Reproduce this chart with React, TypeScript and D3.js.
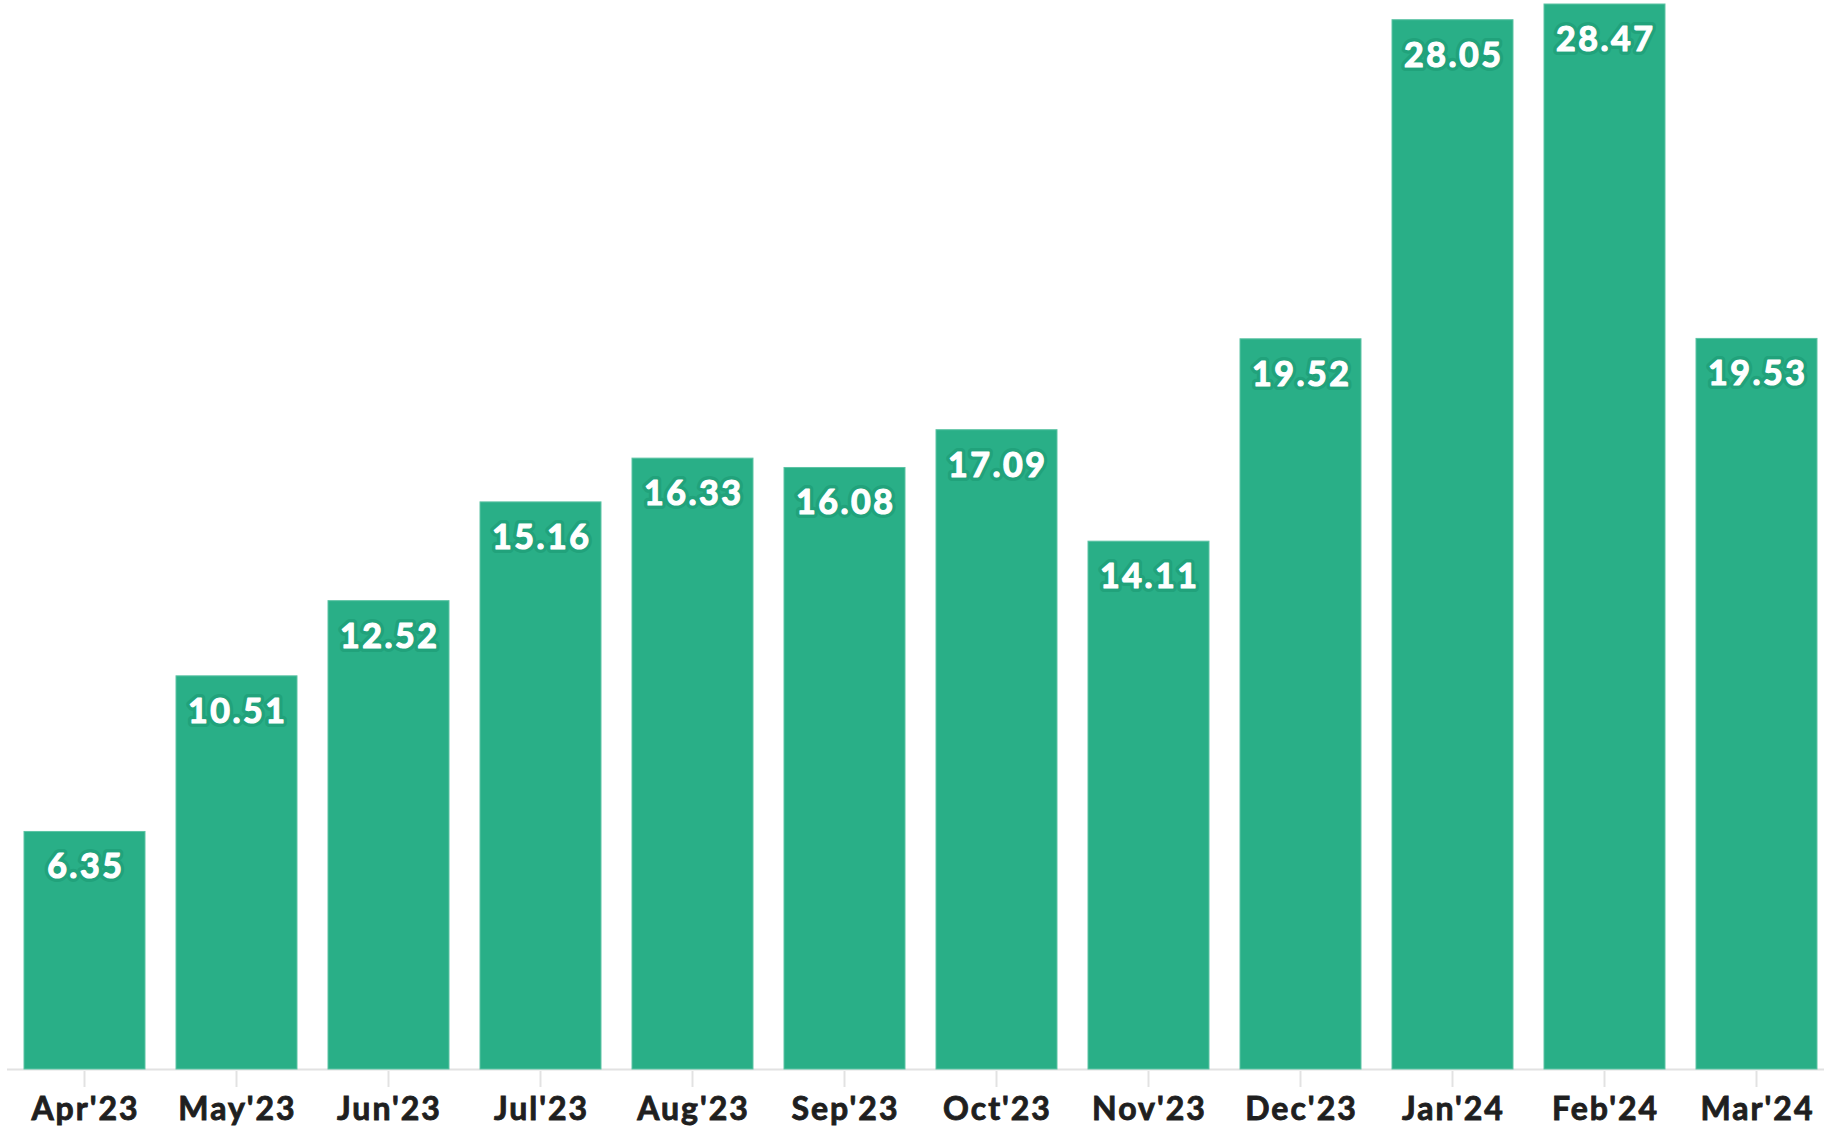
import React from "react";
import * as d3 from "d3";

const months = ["Apr'23", "May'23", "Jun'23", "Jul'23", "Aug'23", "Sep'23", "Oct'23", "Nov'23", "Dec'23", "Jan'24", "Feb'24", "Mar'24"];
const values = [6.35, 10.51, 12.52, 15.16, 16.33, 16.08, 17.09, 14.11, 19.52, 28.05, 28.47, 19.53];

const W = 1824;
const H = 1131;
const baseY = 1069;
const topY = 4;

export default function App() {
  const x = d3.scaleBand<string>().domain(months).range([8.5, 1832.5]).paddingInner(0.204).paddingOuter(0.102);
  const y = d3.scaleLinear().domain([0, d3.max(values) as number]).range([baseY, topY]);
  const font = "Lato, 'Noto Sans', sans-serif";
  const axisLS = 2;
  const valLS = 2.5;
  return (
    <svg width={W} height={H} style={{ position: "absolute", left: 0, top: 0, background: "#fff" }}>
      <line x1={7} x2={1824} y1={baseY + 0.5} y2={baseY + 0.5} stroke="#e2e2e2" strokeWidth={2} />
      {months.map((m) => {
        const cx = (x(m) as number) + x.bandwidth() / 2;
        return (
          <g key={m}>
            <line x1={cx} x2={cx} y1={baseY + 2} y2={baseY + 18} stroke="#e2e2e2" strokeWidth={2} />
            <text x={cx + axisLS / 2} y={1120} textAnchor="middle" fontFamily={font} fontWeight={700} fontSize={32}
              letterSpacing={axisLS} fill="#1f1f1f" stroke="#1f1f1f" strokeWidth={0.9}>{m}</text>
          </g>
        );
      })}
      {values.map((v, i) => {
        const m = months[i];
        const bx = x(m) as number;
        const by = y(v);
        const cx = bx + x.bandwidth() / 2 + valLS / 2;
        return (
          <g key={m}>
            <rect x={bx} y={by} width={x.bandwidth()} height={baseY - by} fill="#29af87" stroke="#5cc3a4" strokeWidth={1} />
            <text x={cx} y={by + 47} textAnchor="middle" fontFamily={font} fontWeight={700} fontSize={34} letterSpacing={valLS}
              fill="#21a27b" stroke="#21a27b" strokeWidth={8} strokeLinejoin="round">{v.toFixed(2)}</text>
            <text x={cx} y={by + 47} textAnchor="middle" fontFamily={font} fontWeight={700} fontSize={34} letterSpacing={valLS}
              fill="#fff" stroke="#fff" strokeWidth={1.2} strokeLinejoin="round">{v.toFixed(2)}</text>
          </g>
        );
      })}
    </svg>
  );
}
